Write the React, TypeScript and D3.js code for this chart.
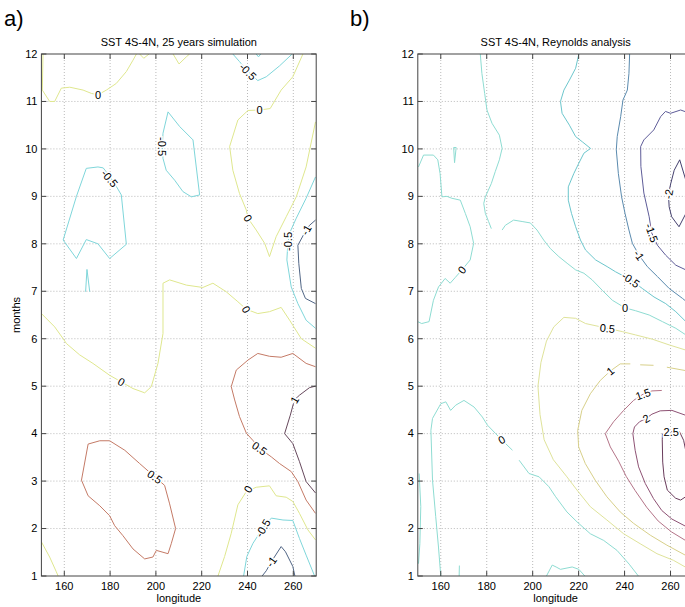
import React from "react";
import * as d3 from "d3";

// axes
const lonTicks = [160, 180, 200, 220, 240, 260];
const monthTicks = [1, 2, 3, 4, 5, 6, 7, 8, 9, 10, 11, 12];

// ---- a) 25 years simulation: contour polylines [lon, month] ----
const simZeroTop = [[150.7, 12], [150.4, 11.24], [153.6, 11.0], [155.8, 11.0], [158.7, 11.28], [162.4, 11.3], [168.2, 11.24], [171.8, 11.17], [174.7, 11.14], [178.4, 11.24], [182.7, 11.38], [187.1, 11.63], [190, 11.87], [191.5, 12]];
const simZeroBit1 = [[192.9, 12], [194.7, 11.91], [197, 12]];
const simZeroBit2 = [[207.5, 12], [210.1, 11.79], [213.3, 11.94], [214.7, 12]];
const simNegBit = [[243.8, 12], [244.8, 11.94], [245.8, 12]];
const simNegLeft = [[174.7, 9.62], [169.6, 9.59], [165.3, 9.0], [159.5, 8.08], [165.3, 7.69], [169.6, 8.09], [174.7, 8.0], [179.8, 7.69], [187.1, 7.99], [184.9, 9.03], [182, 9.27], [179.8, 9.42], [177, 9.6], [174.7, 9.62]];
const simNegSpike = [[169.3, 6.99], [169.9, 7.46], [171.1, 6.99]];
const simNegMid = [[203.1, 10.33], [205.3, 10.78], [210.4, 10.47], [216.2, 10.19], [219.1, 9.03], [215.5, 8.99], [211.8, 9.1], [208.2, 9.34], [204.5, 9.55], [203.1, 9.8], [202.8, 10.05], [203.1, 10.33]];
const simNegTopRight = [[233.6, 12], [236.5, 11.84], [240.2, 11.63], [244.5, 11.44], [248.2, 11.52], [254, 11.75], [259.5, 12]];
const simZeroRight = [[264.2, 12], [259.8, 11.52], [254.7, 11.24], [249.9, 10.85], [245.3, 10.82], [240.2, 10.81], [235.8, 10.61], [232.2, 10.05], [233.6, 9.55], [236.5, 9.06], [239.5, 8.71], [240.2, 8.54], [243.8, 8.29], [247.5, 8.01], [249.6, 7.73], [252.5, 8.15], [256.9, 8.57], [261.3, 8.99], [265.6, 9.62], [269.7, 10.57]];
const simNegRight = [[269.7, 9.41], [265.6, 8.96], [261.3, 8.54], [258.6, 8.25], [257.6, 8.01], [257.2, 7.66], [259.1, 7.09], [262, 6.74], [265.6, 6.39], [269.7, 6.22]];
const simMinusOneRight = [[269.7, 8.5], [267.1, 8.39], [265.6, 8.29], [262, 7.97], [262.4, 7.59], [263.5, 7.06], [265.3, 6.85], [269.7, 6.74]];
const simZeroMid = [[150, 6.53], [155.8, 6.25], [159.5, 6.0], [160.9, 5.9], [166.7, 5.66], [172.5, 5.48], [179.8, 5.23], [184.9, 5.09], [190, 4.95], [195.1, 4.86], [198, 4.99], [200.9, 5.48], [203.1, 6.11], [203.1, 7.17], [206, 7.24], [213.3, 7.13], [220.5, 7.08], [224.9, 7.17], [230.7, 6.99], [235.8, 6.78], [239.5, 6.62], [244.5, 6.53], [249.6, 6.57], [254.7, 6.66], [258.4, 6.39], [263.5, 6.0], [269.7, 5.8]];
const simHalfRight = [[269.7, 5.41], [265.6, 5.48], [259.8, 5.69], [254.7, 5.61], [249.6, 5.63], [244.5, 5.69], [240.2, 5.55], [235.1, 5.34], [232.9, 4.99], [234.4, 4.71], [236.5, 4.36], [239.5, 4.01], [242.5, 3.85], [245.3, 3.69], [250.4, 3.51], [254, 3.37], [259.1, 3.2], [262, 2.99], [265.6, 2.6], [269.7, 2.32]];
const simOneRight = [[269.7, 5.0], [267.1, 4.97], [262.7, 4.81], [260.5, 4.71], [258.7, 4.39], [256.2, 4.0], [259.8, 3.79], [262.7, 3.41], [265.6, 2.99], [269.7, 2.75]];
const simHalfLeft = [[167.5, 3.02], [170.4, 3.78], [175.5, 3.85], [179.8, 3.85], [186.4, 3.65], [192.9, 3.37], [199.5, 3.09], [203.8, 2.91], [206, 2.52], [208.6, 2.0], [206.7, 1.68], [205.3, 1.47], [203.1, 1.5], [200.2, 1.54], [198.7, 1.4], [195.1, 1.36], [190, 1.57], [185.6, 1.85], [182, 2.06], [179.8, 2.27], [175.5, 2.48], [170.4, 2.69], [167.5, 3.02]];
const simZeroBottomLeft = [[150, 1.72], [153.6, 1.4], [156.5, 1.09], [157.3, 1.0]];
const simZeroBottom = [[227.1, 1.0], [230, 1.41], [232.9, 1.9], [235.8, 2.5], [239.5, 2.78], [243.8, 2.87], [249.6, 2.9], [252.5, 2.69], [256.9, 2.66], [259.8, 2.57], [262.7, 2.32], [266.4, 1.97], [269.7, 1.76]];
const simNegBottom = [[238.3, 1.0], [239.7, 1.41], [242.4, 1.69], [246.7, 2.01], [250.4, 2.22], [255.5, 2.18], [259.8, 2.17], [262.7, 1.79], [265.6, 1.44], [269.3, 1.0]];
const simMinusOneBottom = [[246.4, 1.0], [248.2, 1.11], [250.4, 1.3], [254.7, 1.62], [256.6, 1.51], [259.8, 1.2], [260.7, 1.0]];

const simContours = [
  { level: "0", pts: simZeroTop }, { level: "0", pts: simZeroBit1 }, { level: "0", pts: simZeroBit2 },
  { level: "-0.5", pts: simNegBit }, { level: "-0.5", pts: simNegLeft }, { level: "-0.5", pts: simNegSpike },
  { level: "-0.5", pts: simNegMid }, { level: "-0.5", pts: simNegTopRight }, { level: "0", pts: simZeroRight },
  { level: "-0.5", pts: simNegRight }, { level: "-1", pts: simMinusOneRight }, { level: "0", pts: simZeroMid },
  { level: "0.5", pts: simHalfRight }, { level: "1", pts: simOneRight }, { level: "0.5", pts: simHalfLeft },
  { level: "0", pts: simZeroBottomLeft }, { level: "0", pts: simZeroBottom }, { level: "-0.5", pts: simNegBottom },
  { level: "-1", pts: simMinusOneBottom },
];
// [text, lon, month, angle]
const simLabels: [string, number, number, number][] = [
  ["0", 174.7, 11.14, 0], ["-0.5", 179.8, 9.38, 50], ["-0.5", 202.8, 10.05, 90],
  ["-0.5", 240.2, 11.63, 45], ["0", 245.3, 10.82, 0], ["0", 240.2, 8.54, 60],
  ["-0.5", 257.6, 8.05, -90], ["-1", 265.6, 8.29, -60], ["0", 239.5, 6.62, 60],
  ["0", 184.9, 5.09, 30], ["0.5", 245.3, 3.69, 35], ["1", 260.5, 4.71, -60],
  ["0.5", 199.5, 3.09, 35], ["0", 240.2, 2.83, -60], ["-0.5", 246.7, 2.01, -60],
  ["-1", 250.4, 1.3, -55],
];
const simColors: Record<string, string> = {
  "-1": "#506585", "-0.5": "#7fd6da", "0": "#dfe78e", "0.5": "#c47a66", "1": "#66485c",
};

// ---- b) Reynolds analysis ----
const reyZeroLeft = [[150.3, 9.62], [152.5, 9.87], [156.8, 9.87], [158.7, 9.77], [159.7, 9.48], [160.5, 8.99], [162.7, 9.0], [164.8, 8.96], [168.5, 8.92], [170.7, 8.64], [172.8, 8.36], [174.3, 8.01], [172.8, 7.66], [169.2, 7.45], [166.3, 7.29], [164.1, 7.17], [161.9, 7.27], [159, 7.09], [156.8, 6.81], [154.9, 6.36], [151.7, 6.32], [150, 6.36]];
const reyZeroSpike = [[165.6, 10.03], [166.7, 10.03], [166, 9.71], [165.6, 10.03]];
const reyZeroTop = [[177.2, 12], [177.9, 11.59], [179.1, 11.17], [180.1, 10.82], [182.3, 10.54], [185.5, 10.29], [186.7, 10.01], [185.5, 9.77], [183.7, 9.52], [182, 9.27], [179.4, 8.99], [178.7, 8.85], [179.4, 8.64], [180.8, 8.47], [182, 8.32]];
const reyZeroDiag = [[186.7, 8.29], [188.1, 8.39], [191.7, 8.5], [195.4, 8.47], [199, 8.44], [201.9, 8.29], [204.8, 8.08], [207.7, 7.9], [211.4, 7.73], [215, 7.59], [218.7, 7.45], [222.3, 7.38], [225.9, 7.24], [230.3, 7.02], [234.7, 6.81], [240.2, 6.65], [244.8, 6.59], [250.7, 6.5], [256.5, 6.36], [262.3, 6.22], [266.7, 6.08], [271, 5.95]];
const reyNegHalf = [[220.1, 12], [218.7, 11.7], [216, 11.45], [213.6, 11.24], [212.1, 11.0], [212.8, 10.75], [216, 10.5], [218.7, 10.26], [221.6, 10.15], [225.2, 10.01], [222.3, 9.91], [220.1, 9.7], [217.9, 9.48], [215.5, 9.2], [215.5, 8.92], [216.9, 8.64], [218.7, 8.36], [220.8, 8.08], [223, 7.87], [227.4, 7.66], [232.4, 7.52], [236.1, 7.41], [242.7, 7.24], [247.7, 7.06], [252.8, 6.88], [257.9, 6.74], [262.3, 6.57], [266.7, 6.36], [271, 6.15]];
const reyMinusOne = [[242.2, 12], [241.9, 11.59], [241.2, 11.24], [239.3, 11.03], [238.3, 10.68], [236.8, 10.26], [236.4, 9.98], [237.3, 9.48], [238.7, 8.99], [240.2, 8.64], [241.9, 8.29], [243.4, 8.01], [246.3, 7.76], [249.9, 7.52], [254.3, 7.31], [259.4, 7.06], [265.2, 6.85], [271, 6.62]];
const reyMinusOneHalf = [[271, 10.75], [266.7, 10.78], [264.4, 10.82], [260, 10.75], [257.8, 10.79], [255.7, 10.68], [252.7, 10.4], [248.4, 10.19], [247, 10.05], [247.1, 9.63], [248.4, 9.07], [250.7, 8.57], [251.8, 8.23], [254.3, 7.97], [257.9, 7.76], [262.3, 7.55], [266.7, 7.45], [271, 7.38]];
const reyMinusTwo = [[268, 8.9], [266.7, 8.64], [263.7, 8.36], [260.5, 8.57], [259.4, 8.78], [259.1, 9.05], [260.1, 9.27], [261.6, 9.55], [264, 9.77], [266.6, 9.35], [268, 9.1]];
const reyHalf = [[271, 5.7], [266.7, 5.76], [259.4, 5.87], [252.1, 5.99], [244.8, 6.08], [239, 6.15], [232.5, 6.22], [223, 6.32], [218.7, 6.43], [213.6, 6.45], [209.2, 6.25], [206, 5.95], [203.6, 5.5], [202.3, 5.0], [203.2, 4.4], [205, 3.87], [209, 3.45], [214.9, 3.09], [219.3, 2.81], [225.1, 2.46], [232.3, 2.18], [239.6, 1.89], [246.8, 1.68], [254.1, 1.47], [261.3, 1.33], [266.4, 1.19], [271, 1.08]];
const reyOneA = [[271, 5.3], [266.4, 5.33], [258.4, 5.4]];
const reyOneB = [[252.6, 5.44], [246.8, 5.45]];
const reyOne = [[242.5, 5.47], [238.1, 5.47], [233.8, 5.32], [229.4, 5.12], [225.1, 4.84], [221.4, 4.49], [219.6, 4.07], [220, 3.72], [222.9, 3.37], [227.2, 3.02], [232.3, 2.67], [238.1, 2.35], [243.9, 2.11], [251.2, 1.86], [258.4, 1.65], [266.4, 1.44], [271, 1.32]];
const reyOneHalf = [[256.2, 4.91], [251.9, 4.9], [248, 4.83], [243.9, 4.7], [239.6, 4.49], [235.2, 4.25], [231.6, 4.0], [233.8, 3.72], [237.4, 3.42], [240.7, 3.1], [244.6, 2.8], [249.6, 2.45], [254.6, 2.16], [260.4, 1.93], [266.5, 1.75], [271, 1.62]];
const reyTwo = [[271, 4.3], [266.4, 4.39], [260.6, 4.49], [255.5, 4.48], [251.9, 4.41], [249.4, 4.32], [246.5, 4.25], [244.3, 4.14], [243.6, 4.0], [244.6, 3.65], [246.1, 3.3], [249, 2.95], [252.6, 2.63], [256.2, 2.38], [260.6, 2.2], [266.5, 2.05], [271, 1.95]];
const reyTwoHalf = [[260.3, 4.04], [263.9, 4.04], [265.7, 3.86], [266.8, 3.6], [267.2, 3.2], [266.6, 2.67], [264.4, 2.6], [262.2, 2.64], [258.6, 2.81], [257.2, 3.09], [256.6, 3.4], [256.4, 3.87], [256.5, 4.0]];
const reyZeroLow = [[160, 1.0], [159, 1.61], [157.8, 2.25], [156.4, 3.02], [155.7, 4.07], [156.4, 4.32], [160, 4.63], [162.2, 4.67], [164.3, 4.49], [166.5, 4.6], [170.1, 4.7], [174.5, 4.56], [178.1, 4.35], [180.3, 4.18], [183.9, 4.0], [186.5, 3.87], [191.2, 3.65]];
const reyZeroLow2 = [[194.1, 3.44], [198.4, 3.16], [202.8, 3.09], [207.1, 2.88], [210, 2.67], [214.9, 2.35], [219.3, 2.14], [225.1, 1.89], [230.9, 1.75], [236.7, 1.54], [242, 1.25], [246, 1.0]];
const reyZeroEdge = [[150.6, 3.16], [151.3, 2.46], [150.9, 1.68], [150.3, 1.26]];
const reyZeroBump = [[206, 1.0], [208.5, 1.23], [210.2, 1.19], [212.1, 1.14], [217.2, 1.19], [220.1, 1.14], [222.7, 1.0]];
const reyZeroTick = [[168, 1.0], [168.1, 1.22]];

const reyContours = [
  { level: "0", pts: reyZeroLeft }, { level: "0", pts: reyZeroSpike }, { level: "0", pts: reyZeroTop },
  { level: "0", pts: reyZeroDiag }, { level: "-0.5", pts: reyNegHalf }, { level: "-1", pts: reyMinusOne },
  { level: "-1.5", pts: reyMinusOneHalf }, { level: "-2", pts: reyMinusTwo }, { level: "0.5", pts: reyHalf },
  { level: "1", pts: reyOneA }, { level: "1", pts: reyOneB }, { level: "1", pts: reyOne },
  { level: "1.5", pts: reyOneHalf }, { level: "2", pts: reyTwo }, { level: "2.5", pts: reyTwoHalf },
  { level: "0", pts: reyZeroLow }, { level: "0", pts: reyZeroLow2 }, { level: "0", pts: reyZeroEdge },
  { level: "0", pts: reyZeroBump }, { level: "0", pts: reyZeroTick },
];
const reyLabels: [string, number, number, number][] = [
  ["0", 169.2, 7.45, -50], ["0", 240.2, 6.65, 0], ["-0.5", 242.7, 7.24, 35],
  ["-1", 246.3, 7.76, 55], ["-1.5", 251.8, 8.23, 70], ["-2", 259.1, 9.05, -80],
  ["0.5", 232.5, 6.22, 5], ["1", 233.8, 5.32, -40], ["1.5", 248, 4.83, -20],
  ["2", 249.4, 4.32, -30], ["2.5", 260.3, 4.04, 0], ["0", 186.5, 3.87, -30],
];
const reyColors: Record<string, string> = {
  "-2": "#44406e", "-1.5": "#5e5c98", "-1": "#5a8aae", "-0.5": "#6cc6cc", "0": "#8edcd2",
  "0.5": "#dfe39a", "1": "#d8d08a", "1.5": "#b47488", "2": "#8e5274", "2.5": "#6a3c5c",
};

const TOP = 54;
const BOTTOM = 576;
const FONT = "'Liberation Sans', Arial, Helvetica, sans-serif";

type Props = {
  id: string;
  x0: number;
  x1: number;
  tagX: number;
  tag: string;
  title: string;
  contours: { level: string; pts: number[][] }[];
  labels: [string, number, number, number][];
  colors: Record<string, string>;
  yLabel?: string;
};

function Panel({ id, x0, x1, tagX, tag, title, contours, labels, colors, yLabel }: Props) {
  const x = d3.scaleLinear().domain([150, 270]).range([x0, x1]);
  const y = d3.scaleLinear().domain([1, 12]).range([BOTTOM, TOP]);
  const line = d3.line<number[]>().x((d) => x(d[0])).y((d) => y(d[1]));
  const cx = (x0 + x1) / 2;

  return (
    <g fontFamily={FONT}>
      <clipPath id={id}>
        <rect x={x0} y={TOP} width={x1 - x0} height={BOTTOM - TOP} />
      </clipPath>
      <text x={tagX} y={26} fontSize={22}>{tag}</text>
      <text x={cx} y={46} fontSize={11} textAnchor="middle">{title}</text>

      {/* grid */}
      <g stroke="#a8a8a8" strokeWidth={0.8} strokeDasharray="1,2">
        {lonTicks.map((t) => (
          <line key={"gx" + t} x1={x(t)} x2={x(t)} y1={TOP} y2={BOTTOM} />
        ))}
        {monthTicks.slice(1, -1).map((t) => (
          <line key={"gy" + t} x1={x0} x2={x1} y1={y(t)} y2={y(t)} />
        ))}
      </g>

      {/* contours */}
      <g clipPath={`url(#${id})`} fill="none" strokeWidth={1}>
        {contours.map((c, i) => (
          <path key={i} d={line(c.pts) || ""} stroke={colors[c.level]} />
        ))}
      </g>

      {/* contour labels */}
      <g fontSize={11} textAnchor="middle" dominantBaseline="central">
        {labels.map(([t, lon, m, a], i) => (
          <text
            key={i}
            transform={`translate(${x(lon)},${y(m)}) rotate(${a})`}
            fill="#000"
            stroke="#fff"
            strokeWidth={3}
            paintOrder="stroke"
          >
            {t}
          </text>
        ))}
      </g>

      {/* box and ticks */}
      <rect x={x0} y={TOP} width={x1 - x0} height={BOTTOM - TOP} fill="none" stroke="#444" strokeWidth={1} />
      <g stroke="#444" strokeWidth={1}>
        {lonTicks.map((t) => (
          <g key={"tx" + t}>
            <line x1={x(t)} x2={x(t)} y1={BOTTOM} y2={BOTTOM - 5} />
            <line x1={x(t)} x2={x(t)} y1={TOP} y2={TOP + 5} />
          </g>
        ))}
        {monthTicks.map((t) => (
          <g key={"ty" + t}>
            <line x1={x0} x2={x0 + 5} y1={y(t)} y2={y(t)} />
            <line x1={x1} x2={x1 - 5} y1={y(t)} y2={y(t)} />
          </g>
        ))}
      </g>
      <g fontSize={11} fill="#000">
        {lonTicks.map((t) => (
          <text key={"lx" + t} x={x(t)} y={BOTTOM + 14} textAnchor="middle">{t}</text>
        ))}
        {monthTicks.map((t) => (
          <text key={"ly" + t} x={x0 - 4} y={y(t)} dy="0.35em" textAnchor="end">{t}</text>
        ))}
      </g>
      <text x={cx} y={BOTTOM + 26} fontSize={11} textAnchor="middle">longitude</text>
      {yLabel && (
        <text transform={`translate(20,${(TOP + BOTTOM) / 2}) rotate(-90)`} fontSize={11} textAnchor="middle">
          {yLabel}
        </text>
      )}
    </g>
  );
}

export default function App() {
  return (
    <svg
      width={685}
      height={607}
      style={{ position: "absolute", left: 0, top: 0, background: "#fff" }}
    >
      <rect width={685} height={607} fill="#fff" />
      <Panel
        id="clipA"
        x0={41.4}
        x1={316.2}
        tagX={4}
        tag="a)"
        title="SST 4S-4N, 25 years simulation"
        contours={simContours}
        labels={simLabels}
        colors={simColors}
        yLabel="months"
      />
      <Panel
        id="clipB"
        x0={417.8}
        x1={693.5}
        tagX={350}
        tag="b)"
        title="SST 4S-4N, Reynolds analysis"
        contours={reyContours}
        labels={reyLabels}
        colors={reyColors}
      />
    </svg>
  );
}
